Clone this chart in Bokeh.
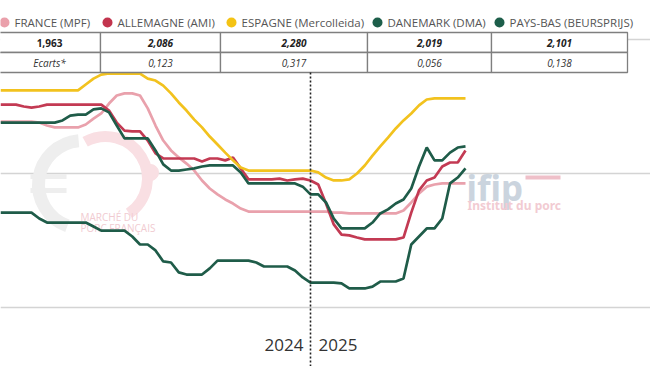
import math
from bokeh.plotting import figure
from bokeh.models import Range1d, Span
from bokeh.embed import file_html
from bokeh.resources import INLINE
from bokeh.core.properties import value

# ---------------- data (weekly prices, EUR/kg) ----------------
weeks = list(range(61))          # week index; index 40 = first week of 2025
year_break = 40
year_labels = ["2024", "2025"]
grid_values = [1.5, 2.0, 2.5]

series_names = ["FRANCE (MPF)", "ALLEMAGNE (AMI)", "ESPAGNE (Mercolleida)",
                "DANEMARK (DMA)", "PAYS-BAS (BEURSPRIJS)"]

france = [2.194, 2.194, 2.194, 2.194, 2.194, 2.190, 2.179, 2.172, 2.172, 2.172,
          2.172, 2.183, 2.205, 2.224, 2.261, 2.291, 2.299, 2.299, 2.291, 2.243,
          2.179, 2.123, 2.086, 2.060, 2.037, 2.011, 1.974, 1.944, 1.922, 1.903,
          1.888, 1.869, 1.858, 1.858, 1.858, 1.858, 1.858, 1.858, 1.858, 1.858,
          1.858, 1.858, 1.858, 1.854, 1.854, 1.851, 1.851, 1.851, 1.851, 1.851,
          1.851, 1.851, 1.862, 1.892, 1.925, 1.951, 1.959, 1.963, 1.963, 1.963,
          1.963]

allemagne = [2.257, 2.257, 2.257, 2.250, 2.246, 2.250, 2.257, 2.257, 2.257, 2.257,
             2.257, 2.257, 2.257, 2.257, 2.235, 2.190, 2.160, 2.157, 2.157, 2.123,
             2.075, 2.056, 2.056, 2.056, 2.056, 2.056, 2.045, 2.056, 2.056, 2.049,
             2.060, 2.019, 1.978, 1.978, 1.978, 1.978, 1.981, 1.974, 1.978, 1.981,
             1.974, 1.959, 1.888, 1.810, 1.772, 1.769, 1.761, 1.754, 1.754, 1.754,
             1.754, 1.754, 1.761, 1.854, 1.937, 1.974, 1.985, 2.026, 2.041, 2.041,
             2.086]

espagne = [2.310, 2.310, 2.310, 2.310, 2.310, 2.310, 2.310, 2.310, 2.310, 2.310,
           2.310, 2.332, 2.354, 2.369, 2.373, 2.373, 2.373, 2.373, 2.373, 2.354,
           2.347, 2.328, 2.299, 2.265, 2.235, 2.201, 2.172, 2.138, 2.108, 2.078,
           2.049, 2.022, 2.011, 2.011, 2.011, 2.011, 2.011, 2.011, 2.011, 2.011,
           2.011, 2.004, 1.985, 1.974, 1.974, 1.978, 2.000, 2.030, 2.067, 2.101,
           2.134, 2.168, 2.198, 2.224, 2.254, 2.276, 2.280, 2.280, 2.280, 2.280,
           2.280]

danemark = [1.854, 1.854, 1.854, 1.854, 1.854, 1.832, 1.817, 1.817, 1.817, 1.817,
            1.817, 1.817, 1.802, 1.787, 1.787, 1.787, 1.787, 1.765, 1.735, 1.735,
            1.713, 1.672, 1.668, 1.631, 1.623, 1.623, 1.623, 1.646, 1.675, 1.675,
            1.675, 1.675, 1.675, 1.668, 1.653, 1.653, 1.653, 1.653, 1.638, 1.612,
            1.593, 1.593, 1.593, 1.593, 1.590, 1.571, 1.571, 1.571, 1.578, 1.597,
            1.597, 1.597, 1.608, 1.735, 1.765, 1.795, 1.795, 1.832, 1.963, 1.985,
            2.019]

pays_bas = [2.190, 2.190, 2.190, 2.190, 2.190, 2.190, 2.190, 2.190, 2.198, 2.216,
            2.220, 2.220, 2.239, 2.243, 2.228, 2.179, 2.131, 2.131, 2.131, 2.131,
            2.086, 2.034, 2.011, 2.011, 2.015, 2.019, 2.026, 2.030, 2.030, 2.030,
            2.030, 2.004, 1.963, 1.963, 1.963, 1.963, 1.963, 1.963, 1.963, 1.951,
            1.922, 1.922, 1.892, 1.832, 1.795, 1.795, 1.795, 1.795, 1.817, 1.851,
            1.866, 1.888, 1.903, 1.944, 2.026, 2.097, 2.049, 2.049, 2.078, 2.097,
            2.101]

series = [france, allemagne, espagne, danemark, pays_bas]
line_colors = ["#e9a1ac", "#c33a53", "#f2c21e", "#1f5c49", "#1f5c49"]
dot_colors = ["#eaa0ab", "#c2344e", "#f4c314", "#1d5e4a", "#1d5e4a"]

# ---------------- layout helpers (reference pixel -> data) ----------------
W, H = 650, 366
MARGIN = 0
PX_PER_WEEK = 7.75
PX_PER_EUR = 268.0
Y_ANCHOR_PX = 173.0     # pixel row of the 2.0 gridline


def xd(px):
    return px / PX_PER_WEEK


def yd(py):
    return 2.0 + (Y_ANCHOR_PX - py) / PX_PER_EUR


p = figure(width=W, height=H,
           x_range=Range1d(xd(MARGIN), xd(MARGIN + W)),
           y_range=Range1d(yd(MARGIN + H), yd(MARGIN)),
           x_axis_type=None, y_axis_type=None,
           toolbar_location=None, output_backend="svg",
           min_border=0, outline_line_color=None)
p.background_fill_color = "white"
p.border_fill_color = "white"

for g in grid_values:
    p.add_layout(Span(location=g, dimension="width", line_color="#d4d4d4",
                      line_width=1.3, level="underlay"))

# ---------------- watermarks ----------------
p.arc(x=[xd(82)], y=[yd(184)], radius=44, radius_units="screen",
      start_angle=95, end_angle=250, start_angle_units="deg", end_angle_units="deg",
      line_width=13, line_color="#eeeeee")
p.segment(x0=[xd(30), xd(30)], y0=[yd(176), yd(190)],
          x1=[xd(66), xd(66)], y1=[yd(176), yd(190)],
          line_width=5, line_color="#eeeeee")
p.arc(x=[xd(105)], y=[yd(178)], radius=42, radius_units="screen",
      start_angle=-56, end_angle=119, start_angle_units="deg", end_angle_units="deg",
      line_width=11, line_color="#f9dfe3")
p.scatter(x=[xd(150)], y=[yd(172)], size=16, color="#f9dfe3")
p.text(x=[xd(80), xd(80)], y=[yd(216), yd(227)],
       text=["MARCHÉ DU", "PORC FRANÇAIS"],
       text_font=value("Open Sans"), text_font_size="10px",
       text_color="#f1cbd1", text_align="left", text_baseline="middle")
p.text(x=[xd(466)], y=[yd(187)], text=["ifip"],
       text_font=value("Noto Sans"), text_font_style="bold", text_font_size="35px",
       text_color="#cbd4de", text_align="left", text_baseline="alphabetic")
p.segment(x0=[xd(525)], y0=[yd(177)], x1=[xd(560)], y1=[yd(177)],
          line_width=4, line_color="#efc0c9")
p.text(x=[xd(467)], y=[yd(205)], text=["Institut du porc"],
       text_font=value("Noto Sans"), text_font_style="bold", text_font_size="12px",
       text_color="#f2cbd2", text_align="left", text_baseline="middle")

# ---------------- series ----------------
for s, c in zip(series, line_colors):
    p.line(weeks, s, line_color=c, line_width=2.7)

# ---------------- legend row ----------------
legend_dot_px = [4, 107, 231, 377, 499]
legend_y = yd(22)
p.scatter(x=[xd(v) for v in legend_dot_px], y=[legend_y] * 5, size=10,
          color=dot_colors, line_color=None)
p.text(x=[xd(v + 10) for v in legend_dot_px], y=[legend_y] * 5, text=series_names,
       text_font=value("Open Sans"), text_font_size="11.5px", text_color="#555555",
       text_align="left", text_baseline="middle")

# ---------------- table ----------------
col_edges = [-2, 100, 220, 367, 491, 627]
row_edges = [32, 52, 72]
lefts, rights, tops, bottoms = [], [], [], []
for r in range(2):
    for c in range(5):
        lefts.append(xd(col_edges[c]))
        rights.append(xd(col_edges[c + 1]))
        tops.append(yd(row_edges[r]))
        bottoms.append(yd(row_edges[r + 1]))
p.quad(left=lefts, right=rights, top=tops, bottom=bottoms,
       fill_color="white", line_color="#7f7f7f", line_width=1.3)

last_vals = [s[-1] for s in series]
row1 = [f"{v:.3f}".replace(".", ",") for v in last_vals]
row2 = ["Ecarts*"] + [f"{v - last_vals[0]:.3f}".replace(".", ",") for v in last_vals[1:]]
centers = [xd((col_edges[i] + col_edges[i + 1]) / 2) for i in range(5)]
p.text(x=centers[:1], y=[yd(42)], text=row1[:1],
       text_font=value("Open Sans"), text_font_style="bold", text_font_size="10px",
       text_color="#222222", text_align="center", text_baseline="middle")
p.text(x=centers[1:], y=[yd(42)] * 4, text=row1[1:],
       text_font=value("Open Sans"), text_font_style="bold italic", text_font_size="10px",
       text_color="#222222", text_align="center", text_baseline="middle")
p.text(x=centers, y=[yd(62)] * 5, text=row2,
       text_font=value("Open Sans"), text_font_style="italic", text_font_size="10px",
       text_color="#333333", text_align="center", text_baseline="middle")

# ---------------- year separator & labels ----------------
p.segment(x0=[year_break], y0=[yd(72)], x1=[year_break], y1=[yd(MARGIN + H + 10)],
          line_color="#222222", line_width=1.6, line_dash="2 2")
p.text(x=[year_break], y=[yd(344)], text=[year_labels[0]], x_offset=-7,
       text_font=value("Open Sans"), text_font_size="17px", text_color="#333333",
       text_align="right", text_baseline="middle")
p.text(x=[year_break], y=[yd(344)], text=[year_labels[1]], x_offset=8,
       text_font=value("Open Sans"), text_font_size="17px", text_color="#333333",
       text_align="left", text_baseline="middle")

open("out.html", "w").write(file_html(p, INLINE))
